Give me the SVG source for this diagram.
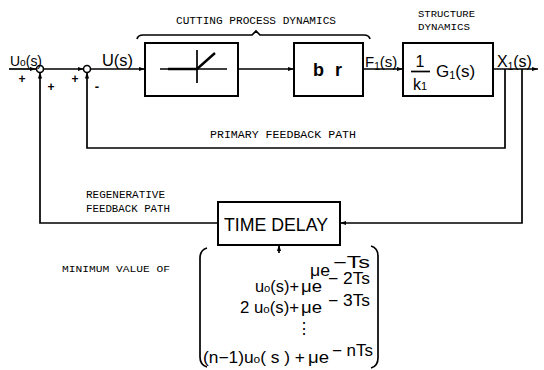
<svg xmlns="http://www.w3.org/2000/svg" width="544" height="370" viewBox="0 0 544 370">
<defs>
<marker id="ah" viewBox="0 0 10 10" refX="10" refY="5" markerWidth="6" markerHeight="6" markerUnits="userSpaceOnUse" orient="auto">
<path d="M0,1.5 L10,5 L0,8.5 z" fill="#000"/>
</marker>
<style>
.ln{fill:none;stroke:#000;stroke-width:1.7}
.bx{fill:#fff;stroke:#000;stroke-width:2}
.t{font-family:"Liberation Sans",Arial,sans-serif;fill:#000}
.eq{font-family:"Liberation Sans",Arial,sans-serif;fill:#000;font-size:16px}
.sm{font-family:"Liberation Mono","DejaVu Sans Mono",monospace;fill:#000}
</style>
</defs>
<rect width="544" height="370" fill="#fff"/>

<g id="connectors">
<path class="ln" d="M9,69 H36" marker-end="url(#ah)"/>
<path class="ln" d="M43.5,69 H83.5" marker-end="url(#ah)"/>
<path class="ln" d="M90.5,69 H145" marker-end="url(#ah)"/>
<path class="ln" d="M238,69 H294" marker-end="url(#ah)"/>
<path class="ln" d="M363,69 H403" marker-end="url(#ah)"/>
<path class="ln" d="M493,69 H538" marker-end="url(#ah)"/>
<path class="ln" d="M505,69 V148 H87 V72.5" marker-end="url(#ah)"/>
<path class="ln" d="M522,69 V223 H340" marker-end="url(#ah)"/>
<path class="ln" d="M218,223 H40 V72.5" marker-end="url(#ah)"/>
<path class="ln" d="M279,253 V245" marker-end="url(#ah)"/>
</g>

<g id="sum1">
<circle cx="40" cy="69" r="3.5" fill="#fff" stroke="#000" stroke-width="1.6"/>
<text class="t" x="22" y="83" font-size="12" text-anchor="middle" font-weight="bold">+</text>
<text class="t" x="51" y="91" font-size="12" text-anchor="middle" font-weight="bold">+</text>
</g>
<g id="sum2">
<circle cx="87" cy="69" r="3.5" fill="#fff" stroke="#000" stroke-width="1.6"/>
<text class="t" x="75" y="83" font-size="12" text-anchor="middle" font-weight="bold">+</text>
<text class="t" x="97" y="91" font-size="13" text-anchor="middle" font-weight="bold">-</text>
</g>

<g id="labels">
<text class="t" x="10" y="66" font-size="15" textLength="32" lengthAdjust="spacingAndGlyphs">U<tspan font-size="11">o</tspan>(s)</text>
<text class="t" x="102" y="66" font-size="16" textLength="31" lengthAdjust="spacingAndGlyphs">U(s)</text>
<text class="t" x="365" y="67" font-size="15">F<tspan font-size="10" dy="3">1</tspan><tspan dy="-3">(s)</tspan></text>
<text class="t" x="497" y="67" font-size="16">X<tspan font-size="10" dy="3">1</tspan><tspan dy="-3">(s)</tspan></text>
<text class="sm" x="176" y="24" font-size="10" textLength="160" lengthAdjust="spacingAndGlyphs">CUTTING PROCESS DYNAMICS</text>
<path class="ln" stroke-width="1.2" d="M137,39 Q138,35 143,35 H252 L256,31 L260,35 H364 Q369,35 370,39"/>
<text class="sm" x="418" y="17" font-size="9.5" textLength="57" lengthAdjust="spacingAndGlyphs">STRUCTURE</text>
<text class="sm" x="418" y="30" font-size="9.5" textLength="52" lengthAdjust="spacingAndGlyphs">DYNAMICS</text>
<text class="sm" x="210" y="138" font-size="10" textLength="146" lengthAdjust="spacingAndGlyphs">PRIMARY FEEDBACK PATH</text>
<text class="sm" x="86" y="198" font-size="10" textLength="79" lengthAdjust="spacingAndGlyphs">REGENERATIVE</text>
<text class="sm" x="86" y="212" font-size="10" textLength="84" lengthAdjust="spacingAndGlyphs">FEEDBACK PATH</text>
<text class="sm" x="62" y="272" font-size="9" textLength="108" lengthAdjust="spacingAndGlyphs">MINIMUM VALUE OF</text>
</g>

<g id="nonlinearity">
<rect class="bx" x="145" y="43" width="93" height="53"/>
<path class="ln" stroke-width="1.3" d="M160,69 H227 M197,50 V83"/>
<path d="M168,69 H197 L215,53" fill="none" stroke="#000" stroke-width="2.4"/>
</g>

<g id="br">
<rect class="bx" x="294" y="43" width="69" height="53"/>
<text class="t" x="329" y="76" font-size="18" font-weight="bold" text-anchor="middle" letter-spacing="3">b r</text>
</g>

<g id="structure">
<rect class="bx" x="403" y="43" width="90" height="53"/>
<text class="t" x="420" y="67" font-size="16" text-anchor="middle">1</text>
<path class="ln" d="M411,71.5 H430"/>
<text class="t" x="420" y="90" font-size="16" text-anchor="middle">k<tspan font-size="11">1</tspan></text>
<text class="t" x="436" y="77" font-size="17">G<tspan font-size="11" dy="2">1</tspan><tspan dy="-2">(s)</tspan></text>
</g>

<g id="timedelay">
<rect class="bx" x="218" y="202" width="122" height="43"/>
<text class="t" x="224" y="231" font-size="18" textLength="104" lengthAdjust="spacingAndGlyphs">TIME DELAY</text>
</g>

<g id="minvalue">
<path class="ln" d="M207,248 Q200,250 200,258 V357 Q200,365 207,367"/>
<path class="ln" d="M371,246 Q378,248 378,256 V358 Q378,366 371,368"/>
<text class="eq" x="310" y="276" textLength="20" lengthAdjust="spacingAndGlyphs">μe</text>
<text class="eq" x="333" y="268" textLength="37" lengthAdjust="spacingAndGlyphs">−Ts</text>
<text class="eq" x="255" y="292" textLength="44" lengthAdjust="spacingAndGlyphs">u<tspan font-size="11">o</tspan>(s)+</text>
<text class="eq" x="301" y="292" textLength="21" lengthAdjust="spacingAndGlyphs">μe</text>
<text class="eq" x="328" y="284" textLength="42" lengthAdjust="spacingAndGlyphs">− 2Ts</text>
<text class="eq" x="240" y="313" textLength="59" lengthAdjust="spacingAndGlyphs">2 u<tspan font-size="11">o</tspan>(s)+</text>
<text class="eq" x="301" y="313" textLength="21" lengthAdjust="spacingAndGlyphs">μe</text>
<text class="eq" x="328" y="306" textLength="42" lengthAdjust="spacingAndGlyphs">− 3Ts</text>
<text class="eq" x="304" y="334" text-anchor="middle">⋮</text>
<text class="eq" x="203" y="363" textLength="102" lengthAdjust="spacingAndGlyphs">(n−1)u<tspan font-size="11">o</tspan>( s ) +</text>
<text class="eq" x="308" y="363" textLength="21" lengthAdjust="spacingAndGlyphs">μe</text>
<text class="eq" x="332" y="356" textLength="41" lengthAdjust="spacingAndGlyphs">− nTs</text>
</g>
</svg>
